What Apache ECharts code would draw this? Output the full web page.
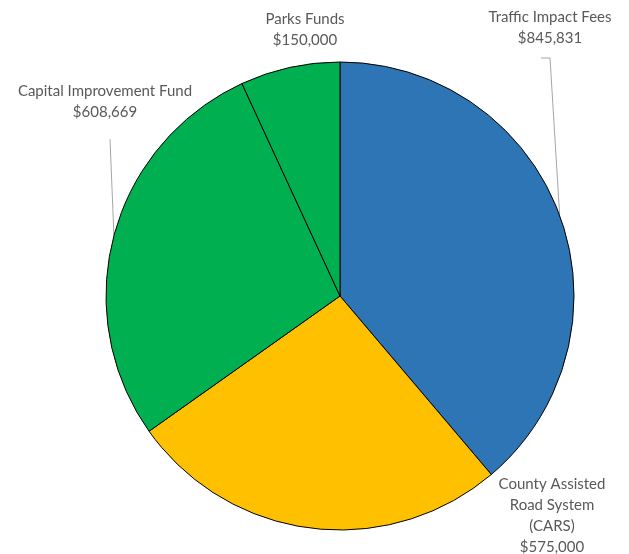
<!DOCTYPE html>
<html><head><meta charset="utf-8">
<script src="https://cdn.jsdelivr.net/npm/echarts@6/dist/echarts.min.js"></script>
<style>html,body{margin:0;padding:0;background:#fff}#c{width:629px;height:554px}</style>
</head><body><div id="c"></div>
<script>
const categories = ['Traffic Impact Fees', 'County Assisted\nRoad System\n(CARS)', 'Capital Improvement Fund', 'Parks Funds'];
const values = [845831, 575000, 608669, 150000];
const colors = ['#2E75B6', '#FFC000', '#00B050', '#00B050'];

const CX = 340, CY = 296, R = 234;
const total = values.reduce((a, b) => a + b, 0);
const mids = [];
let acc = 0;
values.forEach(v => { mids.push((acc + v / 2) / total * 2 * Math.PI); acc += v; });
function edgePt(i) { const a = mids[i]; return [CX + R * Math.sin(a), CY - R * Math.cos(a)]; }

// label placement (centers) and leader-line config
const labelPos = [
  { x: 550, y: 28, line: true, bend: [[550, 58], [541, 58]] },
  { x: 552, y: 516, line: false },
  { x: 105, y: 102, line: true, bend: [[110, 139]] },
  { x: 305, y: 30, line: false }
];

const fmt = v => '$' + v.toLocaleString('en-US');
const chart = echarts.init(document.getElementById('c'));
chart.setOption({
  animation: false,
  series: [{
    type: 'pie',
    center: [CX, CY],
    radius: R,
    startAngle: 90,
    clockwise: true,
    data: categories.map((n, i) => ({
      name: n, value: values[i],
      itemStyle: { color: colors[i] },
      labelLine: { show: labelPos[i].line }
    })),
    itemStyle: { borderColor: '#000', borderWidth: 1 },
    label: {
      show: true, position: 'outside', overflow: 'none',
      formatter: p => p.name + '\n' + fmt(p.value),
      color: '#595959', fontSize: 15, lineHeight: 21,
      fontFamily: 'Lato, "Open Sans", sans-serif', align: 'center'
    },
    labelLine: { show: true, lineStyle: { color: '#a6a6a6', width: 1 }, length: 10, length2: 10 },
    emphasis: { disabled: true },
    labelLayout: function (params) {
      const i = params.dataIndex;
      const lp = labelPos[i];
      const out = { x: lp.x, y: lp.y, align: 'center', verticalAlign: 'middle' };
      if (lp.line) out.labelLinePoints = [edgePt(i)].concat(lp.bend);
      return out;
    }
  }]
});
</script></body></html>
